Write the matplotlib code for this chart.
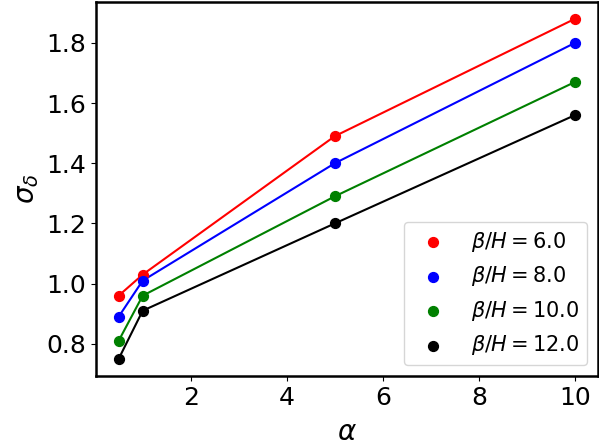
import matplotlib
matplotlib.use("Agg")
import matplotlib.pyplot as plt

# ------------------------------------------------------------------ #
# Data
# ------------------------------------------------------------------ #
alpha = [0.5, 1.0, 5.0, 10.0]
beta_h = [6.0, 8.0, 10.0, 12.0]
colors = ['red', 'blue', 'green', 'black']
sigma_6 = [0.96, 1.03, 1.49, 1.88]
sigma_8 = [0.89, 1.01, 1.40, 1.80]
sigma_10 = [0.81, 0.96, 1.29, 1.67]
sigma_12 = [0.75, 0.91, 1.20, 1.56]
sigmas = [sigma_6, sigma_8, sigma_10, sigma_12]

# ------------------------------------------------------------------ #
# Plot
# ------------------------------------------------------------------ #
fig = plt.figure(figsize=(5.99, 4.48), dpi=100)
ax = fig.add_axes([0.160, 0.161, 0.838, 0.835])

for b, c, s in zip(beta_h, colors, sigmas):
    ax.plot(alpha, s, color=c, lw=1.5)
    ax.scatter(alpha, s, color=c, s=50, zorder=3, label=r'$\beta/H = %.1f$' % b)

for sp in ax.spines.values():
    sp.set_linewidth(1.8)
ax.tick_params(labelsize=18)
ax.set_xlabel(r'$\alpha$', fontsize=20, labelpad=6)
ax.set_ylabel(r'$\sigma_\delta$', fontsize=20)
ax.legend(loc='lower right', fontsize=15)

fig.savefig("out.png", dpi=100)
